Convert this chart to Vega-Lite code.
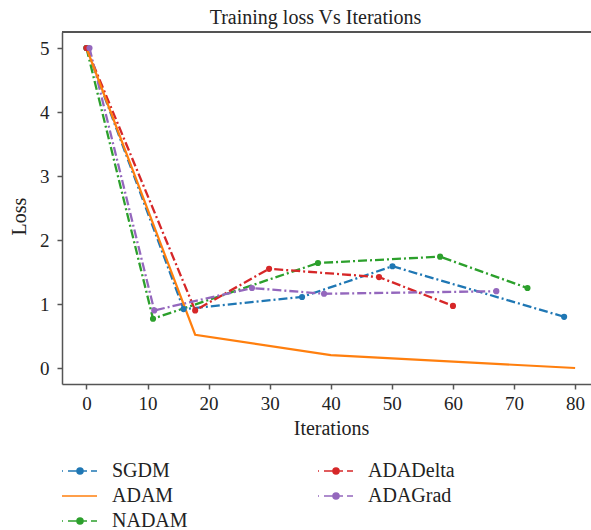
{
  "$schema": "https://vega.github.io/schema/vega-lite/v6.json",
  "width": 529,
  "height": 352,
  "autosize": {"type": "none"},
  "padding": {"left": 62, "top": 32, "right": 0, "bottom": 146},
  "background": "white",
  "title": {
    "text": "Training loss Vs Iterations",
    "font": "Liberation Serif",
    "fontSize": 20,
    "fontWeight": "normal",
    "color": "#222222",
    "anchor": "middle",
    "frame": "group",
    "dx": -11,
    "offset": 3
  },
  "config": {
    "view": {"stroke": null},
    "axis": {
      "labelFont": "Liberation Serif",
      "titleFont": "Liberation Serif",
      "labelFontSize": 19,
      "titleFontSize": 20,
      "titleFontWeight": "normal",
      "labelColor": "#222222",
      "titleColor": "#222222",
      "domainColor": "#555555",
      "domainWidth": 1.5,
      "tickColor": "#555555",
      "tickWidth": 1.5,
      "tickSize": 5,
      "grid": false
    }
  },
  "data": {
    "values": [
      {"series": "SGDM", "iter": 0, "loss": 5.0},
      {"series": "SGDM", "iter": 15.9, "loss": 0.92},
      {"series": "SGDM", "iter": 35.3, "loss": 1.11},
      {"series": "SGDM", "iter": 50.1, "loss": 1.59},
      {"series": "SGDM", "iter": 78.2, "loss": 0.8},
      {"series": "ADAM", "iter": 0, "loss": 5.0},
      {"series": "ADAM", "iter": 17.8, "loss": 0.52},
      {"series": "ADAM", "iter": 40, "loss": 0.2},
      {"series": "ADAM", "iter": 80, "loss": 0.0},
      {"series": "NADAM", "iter": 0, "loss": 5.0},
      {"series": "NADAM", "iter": 10.9, "loss": 0.77},
      {"series": "NADAM", "iter": 37.9, "loss": 1.64},
      {"series": "NADAM", "iter": 57.9, "loss": 1.74},
      {"series": "NADAM", "iter": 72.2, "loss": 1.25},
      {"series": "ADADelta", "iter": 0, "loss": 5.0},
      {"series": "ADADelta", "iter": 17.8, "loss": 0.9},
      {"series": "ADADelta", "iter": 29.9, "loss": 1.55},
      {"series": "ADADelta", "iter": 47.9, "loss": 1.42},
      {"series": "ADADelta", "iter": 60.0, "loss": 0.97},
      {"series": "ADAGrad", "iter": 0.5, "loss": 5.0},
      {"series": "ADAGrad", "iter": 11.1, "loss": 0.9},
      {"series": "ADAGrad", "iter": 27.1, "loss": 1.25},
      {"series": "ADAGrad", "iter": 38.9, "loss": 1.16},
      {"series": "ADAGrad", "iter": 67.1, "loss": 1.2}
    ]
  },
  "encoding": {
    "x": {
      "field": "iter",
      "type": "quantitative",
      "scale": {"domain": [-4, 82.6], "nice": false, "zero": false},
      "axis": {
        "title": "Iterations",
        "values": [0, 10, 20, 30, 40, 50, 60, 70, 80],
        "labelPadding": 5,
        "titleX": 269,
        "titleY": 44,
        "titleBaseline": "middle",
        "titleAlign": "center"
      }
    },
    "y": {
      "field": "loss",
      "type": "quantitative",
      "scale": {"domain": [-0.25, 5.25], "nice": false, "zero": false},
      "axis": {
        "title": "Loss",
        "values": [0, 1, 2, 3, 4, 5],
        "labelPadding": 8,
        "titleX": -43,
        "titleY": 184,
        "titleAngle": -90,
        "titleBaseline": "middle",
        "titleAlign": "center"
      }
    },
    "color": {
      "field": "series",
      "type": "nominal",
      "scale": {
        "domain": ["SGDM", "ADAM", "NADAM", "ADADelta", "ADAGrad"],
        "range": ["#1f77b4", "#ff7f0e", "#2ca02c", "#d62728", "#9467bd"]
      }
    }
  },
  "layer": [
    {
      "mark": {"type": "rule", "color": "#555555", "strokeWidth": 1.5},
      "encoding": {"y": {"datum": 5.25}, "x": null, "color": null}
    },
    {
      "transform": [{"filter": "datum.series !== 'ADAM'"}],
      "mark": {"type": "line", "strokeWidth": 2.3, "strokeDash": [9, 3, 2, 3], "clip": true}
    },
    {
      "transform": [{"filter": "datum.series === 'ADAM'"}],
      "mark": {"type": "line", "strokeWidth": 2.2, "clip": true}
    },
    {
      "transform": [{"filter": "datum.series !== 'ADAM'"}],
      "mark": {"type": "point", "filled": true, "size": 38, "opacity": 1}
    },
    {
      "mark": {"type": "point", "filled": true, "opacity": 0},
      "encoding": {
        "shape": {
          "field": "series",
          "type": "nominal",
          "scale": {
            "domain": ["SGDM", "ADAM", "NADAM", "ADADelta", "ADAGrad"],
            "range": [
              "M-3.6,0H-3.4M-2.4,0H-0.6M0.6,0H1.4M2.2,0H3.4M0.6,0A0.6,0.6,0,1,1,-0.6,0A0.6,0.6,0,1,1,0.6,0Z",
              "M-3.6,0H3.4",
              "M-3.6,0H-3.4M-2.4,0H-0.6M0.6,0H1.4M2.2,0H3.4M0.6,0A0.6,0.6,0,1,1,-0.6,0A0.6,0.6,0,1,1,0.6,0Z",
              "M-3.6,0H-3.4M-2.4,0H-0.6M0.6,0H1.4M2.2,0H3.4M0.6,0A0.6,0.6,0,1,1,-0.6,0A0.6,0.6,0,1,1,0.6,0Z",
              "M-3.6,0H-3.4M-2.4,0H-0.6M0.6,0H1.4M2.2,0H3.4M0.6,0A0.6,0.6,0,1,1,-0.6,0A0.6,0.6,0,1,1,0.6,0Z"
            ]
          },
          "legend": {
            "title": null,
            "orient": "none",
            "legendX": 8,
            "legendY": 429,
            "columns": 2,
            "columnPadding": 127,
            "rowPadding": 5,
            "padding": 0,
            "symbolSize": 100,
            "labelOffset": 22,
            "labelFont": "Liberation Serif",
            "labelFontSize": 20,
            "labelColor": "#222222",
            "labelLimit": 300,
            "encode": {
              "symbols": {
                "update": {
                  "stroke": {"scale": "color", "field": "value"},
                  "fill": {"scale": "color", "field": "value"},
                  "strokeWidth": {"value": 2},
                  "opacity": {"value": 1}
                }
              }
            }
          }
        }
      }
    }
  ]
}
